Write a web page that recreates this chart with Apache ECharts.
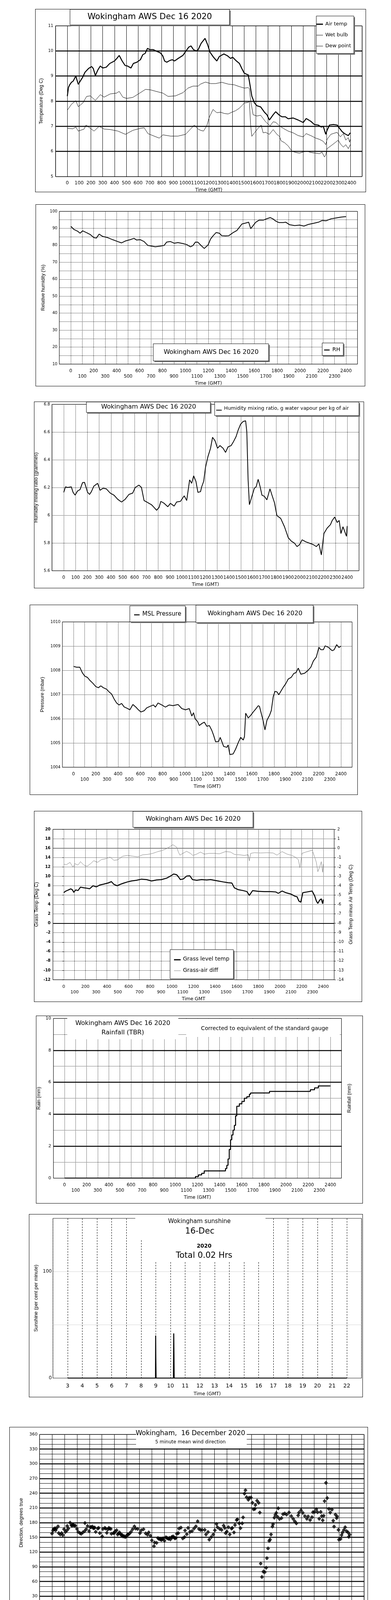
<!DOCTYPE html>
<html><head><meta charset="utf-8">
<script src="https://cdn.jsdelivr.net/npm/echarts@6/dist/echarts.min.js"></script>
<style>
body{margin:0;background:#fff;width:1000px;height:5000px;position:relative;overflow:hidden;}
.p{position:absolute;border:1px solid #000;box-sizing:border-box;background:#fff;}
</style></head><body>
<script>
// ---------------- DATA ----------------
// Panel 1: temperatures (x = time as HHMM-style hundreds, y = deg C)
const airTemp = [[0,8.2],[10,8.55],[20,8.65],[35,8.75],[50,8.8],[72,9.0],[93,8.67],[110,8.8],[130,8.95],[150,9.15],[180,9.3],[206,9.38],[220,9.3],[238,9.02],[260,9.25],[280,9.4],[300,9.32],[330,9.35],[360,9.5],[400,9.6],[420,9.7],[440,9.82],[465,9.6],[490,9.42],[510,9.4],[540,9.32],[560,9.5],[590,9.55],[620,9.65],[640,9.85],[660,9.9],[680,10.1],[700,10.05],[730,10.05],[760,9.98],[790,9.92],[810,9.8],[825,9.6],[843,9.55],[870,9.62],[890,9.65],[910,9.6],[940,9.7],[980,9.82],[1010,10.02],[1030,10.15],[1049,10.2],[1070,10.05],[1094,10.0],[1110,10.05],[1135,10.3],[1155,10.42],[1168,10.5],[1190,10.25],[1210,9.95],[1240,9.75],[1268,9.6],[1290,9.78],[1328,9.88],[1360,9.8],[1385,9.7],[1402,9.75],[1434,9.6],[1460,9.5],[1480,9.3],[1500,9.12],[1520,9.07],[1534,9.05],[1544,8.8],[1565,8.2],[1587,7.93],[1608,7.82],[1640,7.77],[1672,7.56],[1693,7.46],[1714,7.25],[1746,7.46],[1767,7.58],[1799,7.44],[1820,7.38],[1850,7.38],[1873,7.3],[1916,7.33],[1958,7.25],[2001,7.15],[2026,7.31],[2065,7.2],[2096,7.07],[2128,7.05],[2154,6.97],[2171,7.0],[2192,6.68],[2203,6.84],[2224,7.05],[2256,7.07],[2288,7.05],[2309,6.92],[2330,6.79],[2351,6.71],[2383,6.63],[2400,6.74]];
const wetBulb = [[0,7.64],[36,7.88],[72,8.02],[93,7.78],[132,7.93],[164,8.19],[195,8.21],[238,8.03],[280,8.26],[312,8.16],[365,8.29],[418,8.32],[440,8.39],[471,8.16],[503,8.11],[556,8.15],[620,8.34],[663,8.47],[705,8.45],[769,8.37],[811,8.32],[854,8.19],[918,8.21],[981,8.34],[1024,8.52],[1066,8.6],[1109,8.6],[1130,8.68],[1172,8.76],[1215,8.7],[1257,8.7],[1311,8.75],[1364,8.68],[1417,8.65],[1459,8.58],[1502,8.52],[1534,8.54],[1544,8.5],[1555,8.03],[1576,7.46],[1608,7.41],[1640,7.44],[1661,7.31],[1682,7.18],[1720,7.02],[1746,7.18],[1767,7.16],[1799,7.02],[1831,6.92],[1873,6.81],[1916,6.74],[1958,6.63],[2001,6.58],[2026,6.71],[2065,6.63],[2107,6.53],[2139,6.48],[2171,6.4],[2192,6.27],[2203,6.48],[2235,6.68],[2267,6.73],[2288,6.76],[2316,6.58],[2341,6.71],[2362,6.45],[2383,6.55],[2394,6.37],[2400,6.48]];
const dewPoint = [[0,6.92],[47,6.9],[72,6.97],[93,6.81],[142,6.89],[159,7.05],[195,6.92],[227,6.81],[270,7.0],[312,6.89],[365,6.87],[429,6.81],[493,6.68],[556,6.84],[620,6.92],[652,6.94],[684,6.71],[726,6.63],[780,6.53],[811,6.66],[875,6.61],[939,6.61],[1003,6.68],[1045,6.89],[1077,7.05],[1109,6.89],[1130,6.84],[1155,6.81],[1183,7.02],[1204,7.36],[1236,7.67],[1268,7.54],[1300,7.56],[1332,7.51],[1364,7.49],[1395,7.56],[1427,7.62],[1459,7.72],[1480,7.82],[1502,7.93],[1534,7.95],[1544,8.0],[1555,7.05],[1565,6.6],[1587,6.74],[1618,6.92],[1644,7.05],[1661,6.74],[1682,6.76],[1714,6.68],[1746,6.87],[1778,6.68],[1799,6.6],[1814,6.42],[1842,6.35],[1873,6.22],[1905,6.01],[1937,5.96],[1969,5.93],[2001,5.98],[2033,6.01],[2065,5.96],[2107,5.93],[2139,5.91],[2160,5.97],[2181,5.78],[2192,5.86],[2203,6.11],[2235,6.22],[2277,6.37],[2298,6.45],[2316,6.3],[2341,6.17],[2362,6.27],[2383,6.11],[2400,6.27]];
const tempMajorLines = [6,7,8,9,10];

// Panel 2: relative humidity
const relHum = [[0,91.2],[26,89.4],[59,88.3],[81,87.1],[103,88.5],[136,87.5],[168,86.4],[201,84.5],[223,84.2],[247,86.6],[278,85.2],[322,84.5],[365,83.3],[409,82.2],[442,81.4],[475,82.5],[519,83.3],[551,84.1],[573,83.1],[606,83.3],[639,82.2],[672,79.9],[705,79.5],[737,79.1],[781,79.5],[814,79.9],[836,81.9],[869,82.2],[902,81.2],[934,81.6],[978,81.0],[1011,80.4],[1044,79.1],[1066,79.9],[1087,81.9],[1109,81.8],[1131,80.2],[1164,78.1],[1197,80.2],[1219,83.7],[1241,85.6],[1267,87.5],[1295,87.1],[1317,85.6],[1350,85.5],[1376,85.6],[1394,86.4],[1416,87.5],[1448,88.7],[1470,90.6],[1492,92.5],[1525,93.1],[1551,93.6],[1569,89.8],[1591,91.7],[1613,93.6],[1645,94.9],[1678,94.8],[1711,95.7],[1740,96.3],[1766,95.4],[1788,94.2],[1814,93.4],[1853,93.4],[1875,93.6],[1908,92.1],[1952,91.6],[1995,91.9],[2033,91.3],[2072,92.3],[2116,92.9],[2160,93.6],[2192,94.6],[2225,94.4],[2269,95.6],[2313,96.1],[2357,96.6],[2400,96.9]];

// Panel 3: humidity mixing ratio
const mixRatio = [[0,6.165],[15,6.205],[32,6.2],[64,6.205],[79,6.165],[96,6.145],[117,6.175],[138,6.185],[159,6.235],[176,6.237],[202,6.165],[219,6.15],[234,6.17],[255,6.21],[287,6.23],[308,6.18],[333,6.195],[361,6.19],[393,6.16],[425,6.145],[457,6.115],[489,6.095],[520,6.115],[552,6.15],[584,6.16],[605,6.2],[637,6.217],[658,6.2],[680,6.106],[711,6.091],[743,6.076],[765,6.056],[786,6.036],[807,6.056],[822,6.1],[850,6.086],[881,6.061],[903,6.086],[935,6.066],[956,6.096],[988,6.1],[1020,6.14],[1041,6.106],[1066,6.255],[1083,6.23],[1100,6.284],[1119,6.245],[1136,6.165],[1158,6.17],[1168,6.205],[1185,6.245],[1200,6.344],[1221,6.423],[1243,6.483],[1260,6.562],[1281,6.537],[1302,6.483],[1323,6.502],[1349,6.483],[1370,6.453],[1391,6.493],[1417,6.502],[1438,6.532],[1459,6.567],[1476,6.612],[1497,6.656],[1519,6.676],[1540,6.681],[1550,6.602],[1561,6.255],[1572,6.076],[1593,6.136],[1614,6.195],[1629,6.205],[1646,6.259],[1663,6.205],[1678,6.145],[1699,6.136],[1720,6.111],[1746,6.19],[1763,6.145],[1784,6.091],[1805,5.997],[1837,5.977],[1869,5.917],[1901,5.838],[1927,5.813],[1954,5.798],[1975,5.774],[1997,5.788],[2018,5.823],[2050,5.808],[2082,5.798],[2113,5.788],[2139,5.774],[2160,5.794],[2181,5.714],[2203,5.868],[2230,5.907],[2258,5.932],[2273,5.962],[2294,5.987],[2315,5.948],[2332,5.962],[2347,5.868],[2364,5.917],[2381,5.878],[2394,5.848],[2400,5.922]];

// Panel 4: MSL pressure
const pressure = [[0,1008.16],[27,1008.13],[56,1008.13],[79,1007.9],[101,1007.76],[124,1007.71],[146,1007.59],[173,1007.47],[200,1007.33],[223,1007.28],[245,1007.36],[268,1007.28],[297,1007.22],[319,1007.11],[342,1007.02],[364,1006.82],[387,1006.65],[409,1006.57],[432,1006.63],[454,1006.49],[477,1006.44],[506,1006.37],[533,1006.59],[560,1006.48],[582,1006.37],[605,1006.28],[634,1006.33],[657,1006.45],[686,1006.51],[717,1006.57],[735,1006.48],[758,1006.65],[792,1006.57],[825,1006.48],[859,1006.57],[893,1006.54],[938,1006.59],[972,1006.42],[1005,1006.37],[1039,1006.42],[1062,1006.11],[1077,1006.25],[1091,1006.0],[1113,1005.89],[1129,1005.72],[1151,1005.8],[1174,1005.86],[1196,1005.69],[1219,1005.72],[1241,1005.52],[1257,1005.32],[1275,1005.05],[1302,1005.06],[1316,1005.23],[1331,1005.06],[1347,1004.86],[1376,1004.82],[1388,1004.92],[1403,1004.52],[1433,1004.55],[1455,1004.75],[1478,1005.01],[1500,1005.23],[1523,1005.12],[1534,1005.26],[1545,1006.23],[1568,1006.03],[1590,1006.14],[1613,1006.28],[1635,1006.4],[1658,1006.54],[1669,1006.51],[1691,1006.11],[1702,1005.91],[1718,1005.54],[1736,1005.94],[1759,1006.14],[1775,1006.34],[1792,1006.91],[1808,1007.13],[1826,1007.11],[1842,1006.99],[1860,1007.13],[1882,1007.3],[1905,1007.45],[1927,1007.64],[1954,1007.71],[1977,1007.87],[1995,1007.9],[2017,1008.09],[2040,1007.84],[2074,1007.88],[2103,1007.99],[2130,1008.13],[2152,1008.38],[2179,1008.55],[2202,1008.95],[2220,1008.85],[2242,1008.85],[2258,1009.01],[2287,1008.95],[2321,1008.81],[2339,1008.85],[2362,1009.06],[2382,1008.94],[2400,1009.0]];

// Panel 5: grass temperature (left axis) and grass-air difference (right axis)
const grassTemp = [[0,6.52],[16,6.81],[39,7.05],[65,7.34],[81,7.11],[93,6.58],[111,7.11],[132,6.96],[155,7.69],[186,7.55],[216,7.46],[239,7.34],[271,7.99],[301,7.75],[332,8.13],[371,8.34],[410,8.57],[441,8.86],[464,8.28],[494,7.99],[522,8.28],[557,8.57],[591,8.81],[626,9.01],[673,9.16],[719,9.39],[765,9.3],[812,9.01],[858,9.22],[904,9.3],[951,9.6],[986,10.04],[1016,10.48],[1044,10.33],[1060,9.89],[1078,9.3],[1106,9.45],[1136,10.04],[1166,10.1],[1190,9.3],[1229,9.16],[1275,9.3],[1322,9.22],[1357,9.3],[1391,9.16],[1426,9.01],[1473,8.81],[1519,8.63],[1554,8.57],[1577,7.55],[1612,7.16],[1658,6.96],[1693,6.75],[1716,5.93],[1746,6.96],[1797,6.81],[1855,6.75],[1913,6.75],[1960,6.67],[1983,6.37],[2018,6.87],[2052,6.52],[2099,6.23],[2134,5.79],[2157,5.64],[2173,4.76],[2191,4.47],[2210,6.52],[2249,6.67],[2296,6.87],[2319,5.88],[2335,4.76],[2349,4.23],[2365,4.91],[2381,5.2],[2393,4.18],[2400,5.06]];
const grassAirDiff = [[0,-1.69],[23,-1.78],[58,-1.52],[86,-2.03],[104,-1.66],[132,-1.81],[155,-1.44],[186,-1.81],[216,-1.93],[248,-1.66],[278,-1.34],[313,-1.52],[348,-1.22],[383,-1.15],[429,-0.96],[464,-1.3],[499,-1.25],[545,-0.86],[591,-0.78],[638,-0.86],[684,-0.93],[730,-0.71],[777,-0.67],[823,-0.56],[858,-0.42],[904,-0.27],[939,-0.12],[974,0.1],[1009,0.36],[1044,0.1],[1060,-0.42],[1074,-0.75],[1102,-0.56],[1136,-0.34],[1171,-0.56],[1194,-0.78],[1229,-0.64],[1264,-0.42],[1299,-0.64],[1345,-0.56],[1391,-0.56],[1438,-0.61],[1496,-0.37],[1542,-0.42],[1577,-0.67],[1623,-0.71],[1670,-0.78],[1705,-0.71],[1716,-1.37],[1728,-0.56],[1762,-0.49],[1820,-0.52],[1878,-0.49],[1936,-0.52],[1971,-0.75],[2018,-0.37],[2064,-0.64],[2110,-0.78],[2145,-1.0],[2168,-1.22],[2184,-2.1],[2203,-0.56],[2238,-0.42],[2273,-0.31],[2296,-0.2],[2319,-0.93],[2335,-1.52],[2349,-2.51],[2365,-2.03],[2381,-1.44],[2393,-2.57],[2400,-1.66]];

// Panel 6: cumulative rainfall (mm), value holds from its time onwards
const rainfall = [[0,0],[1182,0.1],[1209,0.2],[1238,0.3],[1261,0.45],[1442,0.45],[1453,0.6],[1465,0.8],[1476,1.2],[1487,1.8],[1499,2.4],[1510,2.7],[1521,3.0],[1533,3.3],[1544,3.9],[1555,4.5],[1578,4.65],[1601,4.8],[1623,5.0],[1646,5.1],[1669,5.25],[1680,5.33],[1850,5.43],[2219,5.53],[2257,5.65],[2291,5.77],[2400,5.77]];
const rainMajorLines = [2,4,6,8];

// Panel 7: sunshine (per cent per minute), x in hours
const sunshine = [[3,0],[8.98,0],[8.99,40],[9.0,20],[9.02,0],[10.2,0],[10.21,20],[10.22,42],[10.235,23],[10.25,0],[22,0]];

// Panel 8: 5-minute mean wind direction (hours, degrees)
const windDir = [[0.0,157.9],[0.08,164],[0.13,167],[0.19,166.7],[0.24,168.5],[0.29,164.5],[0.35,168],[0.48,172.5],[0.54,158.7],[0.66,156],[0.77,158.7],[0.87,154.7],[0.96,166.7],[1.08,161.3],[1.19,164],[1.22,173.3],[1.31,168],[1.45,180],[1.55,174.7],[1.62,174],[1.66,176],[1.71,175.2],[1.78,174],[1.87,173.9],[2.0,167.2],[2.1,161.3],[2.24,158.7],[2.34,157.3],[2.47,160],[2.61,162.7],[2.64,179.2],[2.74,166.7],[2.85,173.3],[2.97,162.7],[3.08,170.7],[3.14,171],[3.24,172],[3.3,169],[3.37,168.8],[3.42,170],[3.5,161.3],[3.66,168],[3.74,169.3],[3.83,158.7],[4.02,152],[4.08,167.2],[4.23,169.3],[4.3,168],[4.39,159.2],[4.47,166],[4.55,169.3],[4.62,168],[4.71,167.2],[4.76,157.3],[4.92,158.7],[5.0,159],[5.07,162.7],[5.18,164.5],[5.26,156],[5.33,158],[5.41,160],[5.48,157],[5.55,154.7],[5.62,155],[5.7,152],[5.78,152.5],[5.86,150.7],[5.94,152],[6.04,155.5],[6.12,156],[6.21,157.9],[6.33,161.3],[6.46,166.7],[6.6,172.5],[6.7,168],[6.86,167.2],[7.05,158.7],[7.15,164.5],[7.33,166.7],[7.51,158.1],[7.65,155.5],[7.75,160],[7.89,153.3],[8.0,144],[8.17,132],[8.22,139.5],[8.38,138.7],[8.49,148.5],[8.56,147],[8.64,146.7],[8.7,146],[8.77,144.8],[8.84,147],[8.91,148],[9.01,143.2],[9.12,150.1],[9.2,149],[9.28,148],[9.36,147],[9.42,149],[9.49,145.9],[9.59,150.7],[9.64,150],[9.7,152],[9.78,150],[9.85,148],[9.92,149],[10.0,157.3],[10.12,158.7],[10.18,168],[10.33,169.9],[10.48,148],[10.62,150.7],[10.66,164],[10.8,156.5],[10.9,169.3],[11.06,161.3],[11.22,162.7],[11.38,168],[11.53,172.5],[11.67,182.7],[11.77,167.2],[11.9,165],[12.03,165.3],[12.24,165.3],[12.34,156],[12.5,160.8],[12.6,145.3],[12.76,150.7],[12.92,156],[13.05,164.5],[13.18,177.3],[13.26,170.7],[13.44,167.2],[13.59,165.3],[13.75,174.1],[13.85,169.3],[13.91,158.7],[14.01,161.9],[14.14,170.7],[14.24,156],[14.38,168],[14.45,169.3],[14.58,160],[14.66,175.2],[14.79,185.3],[14.86,186.7],[15.0,178.7],[15.1,168.8],[15.24,178.7],[15.31,190.7],[15.42,239.2],[15.5,246.1],[15.59,232],[15.73,226.7],[15.8,230.7],[15.94,231.2],[16.06,220.5],[16.15,207.2],[16.25,208],[16.3,216],[16.43,224.8],[16.56,220.5],[16.65,200.5],[16.72,96.5],[16.82,69.3],[16.93,80],[17.05,79.2],[17.16,88],[17.22,107.5],[17.31,127.5],[17.4,142.7],[17.47,145.3],[17.55,156],[17.66,172],[17.71,176.8],[17.81,190.1],[17.89,196],[17.97,200],[18.07,192],[18.13,209.3],[18.23,187.5],[18.39,189.3],[18.51,197.3],[18.65,198.7],[18.8,196.5],[18.99,200.8],[19.17,193.3],[19.32,188],[19.45,182.7],[19.58,178.7],[19.72,194.7],[19.79,200.5],[19.95,205.3],[20.1,200],[20.26,193.3],[20.42,188],[20.52,192.8],[20.68,185.3],[20.83,191.2],[20.91,201.3],[21.04,201.9],[21.18,207.2],[21.28,201.3],[21.41,188],[21.53,201.9],[21.61,193.3],[21.69,184.8],[21.77,193.9],[21.84,224],[21.95,261.3],[22.05,230.1],[22.19,208],[22.29,200.5],[22.43,206.7],[22.53,184],[22.6,172],[22.71,196.5],[22.81,189.3],[22.84,192.8],[22.95,165.3],[22.99,145.3],[23.12,146.7],[23.2,154.7],[23.28,160],[23.39,165.3],[23.49,170.7],[23.6,162.7],[23.72,160],[23.78,151.2],[23.85,155.5]];
const dirMajorLines = [30,60,90,120,150,180,210,240,270,300,330];

// Panel 9: wind speed (hours, knots)
const windMean = [[0,6.5],[0.2,6.6],[0.4,7.1],[0.6,6.9],[0.8,7.4],[1.0,7.4],[1.2,8.5],[1.4,7.8],[1.6,8.9],[1.8,9.5],[2.0,10.4],[2.2,9.1],[2.4,8.9],[2.6,9.1],[2.8,8.7],[3.0,8.9],[3.2,9.6],[3.4,10.2],[3.6,9.8],[3.8,10.4],[4.0,11.3],[4.2,10.9],[4.4,10.2],[4.6,9.6],[4.8,10.0],[5.0,9.1],[5.2,9.6],[5.4,9.1],[5.6,8.9],[5.8,9.6],[6.0,9.2],[6.2,10.0],[6.4,9.6],[6.6,9.1],[6.8,7.1],[7.0,8.7],[7.2,9.6],[7.4,9.1],[7.6,9.8],[7.8,9.1],[8.0,8.9],[8.2,9.2],[8.4,8.7],[8.6,9.3],[8.8,8.6],[9.0,9.6],[9.2,9.8],[9.4,8.9],[9.6,9.8],[9.8,9.1],[10.0,9.6],[10.2,7.8],[10.4,9.8],[10.6,9.1],[10.8,10.2],[11.0,9.5],[11.2,9.1],[11.4,7.1],[11.6,9.8],[11.8,10.0],[12.0,9.3],[12.2,9.6],[12.4,10.0],[12.6,9.3],[12.8,9.6],[13.0,9.5],[13.2,10.0],[13.4,9.5],[13.6,10.2],[13.8,8.9],[14.0,9.1],[14.2,8.7],[14.4,8.9],[14.6,7.8],[14.8,7.1],[15.0,6.9],[15.2,6.5],[15.4,7.8],[15.6,6.3],[15.8,5.2],[16.0,4.3],[16.2,2.8],[16.4,2.5],[16.6,2.8],[16.8,1.9],[16.9,1.2],[17.0,2.3],[17.2,3.9],[17.4,4.5],[17.6,5.0],[17.8,4.7],[18.0,4.5],[18.2,3.9],[18.4,4.3],[18.6,4.5],[18.8,5.6],[19.0,5.2],[19.2,5.2],[19.4,5.4],[19.6,4.7],[19.8,3.9],[20.0,4.3],[20.2,4.5],[20.4,4.6],[20.6,4.7],[20.8,4.3],[21.0,3.4],[21.2,2.1],[21.4,1.9],[21.6,2.3],[21.8,2.8],[22.0,3.2],[22.2,3.0],[22.4,2.8],[22.6,2.8],[22.8,2.1],[23.0,3.0],[23.2,4.1],[23.4,3.9],[23.6,4.1],[23.8,5.0],[24.0,5.8]];
const windGust = [[0.0,9],[0.1,12.5],[0.2,8],[0.3,13.3],[0.4,9],[0.5,11],[0.55,14.3],[0.6,8.5],[0.7,12],[0.8,7.8],[0.9,13.5],[1.0,8],[1.1,11.5],[1.2,7.2],[1.3,16.8],[1.4,9],[1.5,14],[1.55,6.2],[1.6,15],[1.7,9.5],[1.8,16],[1.85,19],[1.9,10],[2.0,17],[2.1,10.5],[2.2,15],[2.3,9],[2.35,16],[2.4,9.5],[2.5,15.5],[2.6,9],[2.7,16.5],[2.8,10],[2.9,17.5],[3.0,7.5],[3.1,15],[3.2,9.5],[3.3,17],[3.4,11],[3.5,18.5],[3.6,10],[3.7,17],[3.8,21.5],[3.9,10.5],[4.0,19],[4.1,11],[4.2,18],[4.3,10.5],[4.4,17],[4.5,9.5],[4.6,16.5],[4.7,9],[4.8,17.5],[4.9,9.5],[5.0,17],[5.1,9],[5.2,15.5],[5.3,9.5],[5.4,16],[5.5,8.5],[5.6,15],[5.7,9],[5.8,17.5],[5.9,9.5],[6.0,16],[6.1,9],[6.2,19.5],[6.3,10],[6.4,16],[6.5,8.5],[6.6,14.5],[6.7,7],[6.8,12],[6.9,8],[7.0,15],[7.1,17],[7.2,9.5],[7.3,16],[7.4,9],[7.5,15.5],[7.6,9.5],[7.7,17],[7.8,8.5],[7.9,15],[8.0,16],[8.1,9],[8.2,15.5],[8.3,9.5],[8.4,14.5],[8.5,8.5],[8.6,16],[8.7,9],[8.8,15],[8.9,17],[9.0,9.5],[9.1,16],[9.2,10],[9.3,17.5],[9.4,9],[9.5,15],[9.6,9.5],[9.7,16.5],[9.8,18],[9.9,9.5],[10.0,16],[10.1,8.5],[10.2,14],[10.3,5.4],[10.4,15],[10.5,9.5],[10.6,19.5],[10.7,10],[10.8,17],[10.9,9.5],[11.0,18.5],[11.1,10],[11.2,20],[11.3,9],[11.4,15],[11.5,7.5],[11.6,18],[11.7,10],[11.8,19],[11.9,10.5],[12.0,18],[12.1,21.8],[12.2,10],[12.3,17.5],[12.4,9.5],[12.5,20],[12.6,10],[12.7,16],[12.8,9.5],[12.9,17],[13.0,10],[13.1,16.5],[13.2,9.5],[13.3,15],[13.4,21.8],[13.5,10.5],[13.6,17],[13.7,9],[13.8,18],[13.9,7.5],[14.0,15],[14.1,9],[14.2,16],[14.3,8.5],[14.4,16.5],[14.5,9],[14.6,14],[14.7,7.5],[14.8,13],[14.9,7],[15.0,13.5],[15.1,14.9],[15.2,7.5],[15.3,12],[15.4,7],[15.5,10],[15.6,6],[15.7,7.5],[15.8,5],[15.9,6],[16.0,4.5],[16.1,5.5],[16.2,3.8],[16.3,5],[16.4,3.5],[16.5,4.8],[16.6,3.2],[16.7,4.5],[16.8,2.8],[16.9,3.5],[17.0,4.5],[17.1,6],[17.2,5],[17.3,7.5],[17.4,5.5],[17.5,8],[17.6,5.5],[17.7,7.2],[17.8,5],[17.9,7.5],[18.0,5],[18.1,6.5],[18.2,4.5],[18.3,7],[18.4,5.5],[18.5,8],[18.6,6],[18.7,8.5],[18.8,6.5],[18.9,9],[19.0,6.5],[19.1,8],[19.2,5.5],[19.3,7.5],[19.4,5],[19.5,7],[19.6,5.5],[19.7,7.5],[19.8,4.5],[19.9,6.5],[20.0,5],[20.1,7.5],[20.2,5],[20.3,7],[20.4,5.5],[20.5,7],[20.6,5],[20.7,6.5],[20.8,4.5],[20.9,5.5],[21.0,3],[21.1,4.5],[21.2,2.5],[21.3,5],[21.4,3],[21.5,5.5],[21.6,3.5],[21.7,5],[21.8,3.5],[21.9,6],[22.0,11.4],[22.05,5],[22.1,6.5],[22.2,3.5],[22.3,5],[22.4,3],[22.5,6],[22.6,3.5],[22.7,5.5],[22.8,2.8],[22.9,4],[23.0,2.5],[23.1,5.5],[23.2,3.8],[23.3,5.5],[23.4,4],[23.5,5.2],[23.6,4],[23.7,5.5],[23.8,5],[23.9,7.8],[24.0,6]];
const windLowX10 = [[15.97,39.1],[16.0,38.5],[16.0,36.8],[16.02,36.0],[16.02,35.2],[16.05,33.2],[16.07,32.4],[16.07,31.6],[16.09,31.0],[16.12,30.3],[16.12,29.4],[16.15,28.8],[16.17,27.4],[16.2,26.6],[16.22,25.7],[16.26,24.6],[16.28,23.7],[16.28,23.0],[16.33,26.1],[16.38,26.8],[16.43,26.6],[16.48,27.0],[16.56,27.5],[16.6,27.1],[16.63,26.1],[16.66,25.2],[16.68,24.4],[16.71,23.0],[16.71,21.3],[16.74,19.6],[16.74,17.5],[16.77,15.6],[16.81,13.6],[16.79,12.7],[16.79,11.1],[16.82,10.3],[16.81,9.6],[16.87,10.7],[16.87,13.4],[16.89,15.6],[16.89,17.7],[16.91,19.6],[16.94,22.4],[16.94,23.7],[16.97,24.9],[16.97,26.0],[16.99,27.2],[17.01,28.3],[17.02,29.3],[17.04,30.5],[17.07,32.6],[17.09,34.4],[17.09,35.2],[17.11,36.0],[17.14,37.1],[17.17,37.8],[17.19,38.5],[17.24,39.3],[17.28,40.0],[17.35,38.5],[17.38,40.2],[17.3,37.1],[17.35,36.3],[18.16,40.0],[18.26,39.6],[18.4,39.8],[18.4,39.0],[18.2,37.4],[18.36,37.4],[18.32,36.0],[18.36,35.4],[18.26,34.7],[18.31,34.3],[18.26,33.6],[18.3,33.0],[20.03,40.0],[19.9,39.3],[19.95,38.5],[19.97,37.8],[19.85,37.4],[19.95,36.9],[19.95,36.0],[19.9,35.6],[19.85,35.3],[20.95,40.0],[20.95,39.1],[20.97,38.2],[20.99,36.9],[20.99,36.3],[21.0,35.6],[21.02,34.7],[21.02,33.6],[21.02,33.1],[21.07,32.1],[21.07,30.5],[21.09,29.7],[21.17,27.9],[21.17,27.0],[21.19,26.1],[21.19,24.6],[21.22,23.7],[21.22,22.6],[21.26,21.2],[21.28,20.3],[21.3,19.3],[21.33,18.4],[21.38,17.8],[21.43,16.7],[21.48,17.5],[21.5,19.1],[21.53,20.4],[21.53,21.4],[21.58,23.5],[21.58,24.6],[21.63,25.7],[21.63,27.0],[21.6,28.3],[21.68,26.1],[21.73,27.0],[21.79,27.4],[21.81,24.4],[21.83,29.2],[21.86,30.5],[21.88,31.6],[21.9,32.6],[21.93,33.4],[21.95,35.8],[21.98,38.5],[22.04,38.8],[22.17,39.9],[22.19,38.0],[22.11,35.8],[22.19,35.6],[22.21,34.5],[22.24,33.4],[22.3,32.5],[22.3,30.5],[22.35,29.6],[22.4,29.0],[22.42,27.9],[22.45,27.0],[22.48,28.3],[22.52,29.4],[22.58,31.1],[22.62,32.3],[22.65,33.6],[22.7,33.8],[22.68,31.4],[22.72,30.1],[22.76,28.5],[22.79,27.4],[22.76,25.0],[22.81,23.7],[22.83,22.1],[22.86,21.3],[22.91,20.4],[22.96,19.7],[23.01,18.7],[23.03,23.0],[23.06,26.8],[23.09,29.0],[23.13,31.6],[23.13,33.4],[23.16,35.2],[23.16,37.1],[23.16,38.9],[23.3,39.1],[23.4,39.3],[23.47,39.8],[23.57,40.0],[23.64,39.6],[23.7,38.8],[23.37,38.5]];

// ---------------- HELPERS ----------------
const FL = "'DejaVu Sans',Verdana,sans-serif";
const FA = "'Liberation Sans',Arial,sans-serif";
function P(L,T,W,H){
  const d=document.createElement('div'); d.className='p';
  Object.assign(d.style,{left:L+'px',top:T+'px',width:W+'px',height:H+'px'});
  document.body.appendChild(d);
  return {c:echarts.init(d,null,{renderer:'canvas'}), ox:L+1, oy:T+1};
}
function G(p,x0,y0,x1,y1){
  return {left:x0-p.ox, top:y0-p.oy, width:x1-x0, height:y1-y0, show:true, borderColor:'#000', borderWidth:1,
    backgroundColor:'rgba(0,0,0,0)', containLabel:false, outerBoundsMode:'none'};
}
function rect(p,x0,y0,x1,y1,shadow,border){
  const a=[];
  if(shadow) a.push({type:'rect',z:100,silent:true,shape:{x:x0-p.ox+3,y:y0-p.oy+3,width:x1-x0,height:y1-y0},style:{fill:'#7a7a7a'}});
  a.push({type:'rect',z:101,silent:true,shape:{x:x0-p.ox,y:y0-p.oy,width:x1-x0,height:y1-y0},style:{fill:'#fff',stroke:border?'#000':null,lineWidth:1}});
  return a;
}
function txt(p,x,y,s,size,o){
  o=o||{};
  const st={text:s,fontSize:size,fontFamily:o.family||FL,fontWeight:o.bold?'bold':'normal',fill:'#000',
    align:o.align||'center',verticalAlign:'middle'};
  if(o.width){st.width=o.width;st.overflow='truncate';st.ellipsis='';}
  return {type:'text',z:103,silent:true,x:x-p.ox,y:y-p.oy,style:st};
}
function seg(p,x0,x1,y,w,color){
  return {type:'line',z:103,silent:true,shape:{x1:x0-p.ox,y1:y-p.oy,x2:x1-p.ox,y2:y-p.oy},style:{stroke:color||'#000',lineWidth:w}};
}
function lineS(data,w,color,extra){
  return Object.assign({type:'line',data,symbol:'none',showSymbol:false,lineStyle:{width:w,color},itemStyle:{color},silent:true,animation:false,z:5},extra||{});
}
function majors(vals,w,type){
  return {silent:true,symbol:'none',animation:false,label:{show:false},lineStyle:{color:'#000',width:w,type:type||'solid'},data:vals.map(v=>({yAxis:v}))};
}
function hundredsX(twoRow,name,margin,gap,dotted,size){
  return {type:'value',min:-100,max:2500,interval:100,axisLine:{show:false},axisTick:{show:false},
    splitLine:{show:true,lineStyle:{color:'#000',width:1,type:dotted?'dotted':'solid'}},
    axisLabel:{fontFamily:FL,fontSize:size||11.5,color:'#000',margin,lineHeight:14,hideOverlap:false,
      formatter:v=>(v<0||v>2400)?'':(twoRow&&((v/100)%2===1)?'\n'+v:String(v))},
    name,nameLocation:'middle',nameGap:gap,nameTextStyle:{fontFamily:FL,fontSize:12,color:'#000'}};
}
function yAx(min,max,interval,name,gap,margin,o){
  o=o||{};
  return Object.assign({type:'value',min,max,interval,axisLine:{show:false},axisTick:{show:false},
    splitLine:{show:true,lineStyle:{color:'#000',width:1,type:o.split||'dotted'}},
    axisLabel:{fontFamily:FL,fontSize:o.size||10,color:'#000',margin,fontWeight:o.bold?'bold':'normal',hideOverlap:false,
      formatter:o.fmt||(v=>String(Math.round(v*100)/100))},
    name,nameLocation:'middle',nameGap:gap,nameRotate:90,nameTextStyle:{fontFamily:FA,fontSize:12.5,color:'#000'}},o.extra||{});
}

// ---------------- PANEL 1 ----------------
(function(){
  const p=P(90,23,846,469);
  p.c.setOption({animation:false,
    grid:G(p,142,66,926,452),
    xAxis:hundredsX(false,'Time (GMT)',10,29,false,12),
    yAxis:yAx(5,11,1,'Temperature (Deg C)',30,6,{split:'solid'}),
    series:[
      lineS(airTemp,2.5,'#000',{name:'Air temp',markLine:majors(tempMajorLines,2.5)}),
      lineS(wetBulb,1,'#000',{name:'Wet bulb'}),
      lineS(dewPoint,1,'#000',{name:'Dew point'})
    ],
    graphic:{elements:[].concat(
      rect(p,179,24,587,64,true,true),[txt(p,383,44,'Wokingham AWS Dec 16 2020',21)],
      rect(p,809,41,905,137,true,true),
      [seg(p,809,826,62,3),txt(p,832,62,'Air temp',13,{align:'left'}),
       seg(p,809,826,90,1),txt(p,832,90,'Wet bulb',13,{align:'left'}),
       seg(p,809,826,118,1),txt(p,832,118,'Dew point',13,{align:'left'})]
    )}
  });
})();

// ---------------- PANEL 2 ----------------
(function(){
  const p=P(91,523,843,466);
  p.c.setOption({animation:false,
    grid:G(p,151.7,541,914.3,932),
    xAxis:hundredsX(true,'Time (GMT)',11,44,true,11.5),
    yAxis:yAx(10,100,5,'Relative humidity (%)',34,5,{fmt:v=>v%10===0?String(v):''}),
    series:[lineS(relHum,2,'#000',{name:'RH'})],
    graphic:{elements:[].concat(
      rect(p,392,880,687,924,true,true),[txt(p,540,902,'Wokingham AWS Dec 16 2020',16)],
      rect(p,824,878,878,910,true,true),[seg(p,829,843,896,2.5),txt(p,850,895,'RH',14,{align:'left'})]
    )}
  });
})();

// ---------------- PANEL 3 ----------------
(function(){
  const p=P(87,1028,844,478);
  p.c.setOption({animation:false,
    grid:G(p,132.8,1035,918.2,1461),
    xAxis:hundredsX(false,'Time (GMT)',11,29,true,11.5),
    yAxis:yAx(5.6,6.8,0.2,'Humidity mixing ratio (grammes)',34,5,{fmt:v=>String(Math.round(v*10)/10)}),
    series:[lineS(mixRatio,2,'#000',{name:'Humidity mixing ratio'})],
    graphic:{elements:[].concat(
      rect(p,221,1029,538,1056,true,true),[txt(p,380,1042,'Wokingham AWS Dec 16 2020',16)],
      rect(p,549,1029,918,1064,true,true),
      [seg(p,553,567,1050,2),txt(p,573,1046,'Humidity mixing ratio, g water vapour per kg of air',12.5,{align:'left',width:344})]
    )}
  });
})();

// ---------------- PANEL 4 ----------------
(function(){
  const p=P(76,1548,839,487);
  p.c.setOption({animation:false,
    grid:G(p,159.5,1592,900.5,1964),
    xAxis:hundredsX(true,'Time (GMT)',11,44,true,11.5),
    yAxis:yAx(1004,1010,1,'Pressure (mbar)',44,5,{fmt:v=>String(v)}),
    series:[lineS(pressure,2,'#000',{name:'MSL Pressure'})],
    graphic:{elements:[].concat(
      rect(p,332,1551,474,1592,true,true),[seg(p,343,357,1574,2.5),txt(p,364,1572,'MSL Pressure',15,{align:'left'})],
      rect(p,501,1549,801,1594,true,true),[txt(p,652,1571,'Wokingham AWS Dec 16 2020',16)]
    )}
  });
})();

// ---------------- PANEL 5 ----------------
(function(){
  const p=P(87,2076,839,489);
  const ticks={show:true,length:4,inside:false,lineStyle:{color:'#000'}};
  p.c.setOption({animation:false,
    grid:G(p,135.3,2123,854.7,2508),
    xAxis:hundredsX(true,'Time GMT',11,43,true,11),
    yAxis:[
      yAx(-12,20,2,'Grass Temp (Deg C)',34,6,{bold:true,size:10,fmt:v=>String(v),extra:{axisTick:ticks}}),
      yAx(-14,2,1,'Grass Temp minus Air Temp (Deg C)',36,8,{size:10,fmt:v=>String(v),extra:{position:'right',splitLine:{show:false},axisTick:ticks}})
    ],
    series:[
      lineS(grassTemp,2.5,'#000',{name:'Grass level temp',yAxisIndex:0,
        markLine:{silent:true,symbol:'none',animation:false,label:{show:false},
          data:[{yAxis:0,lineStyle:{color:'#000',width:2,type:'solid'}},{yAxis:16,lineStyle:{color:'#000',width:1,type:'solid'}}]}}),
      lineS(grassAirDiff,1,'#808080',{name:'Grass-air diff',yAxisIndex:1})
    ],
    graphic:{elements:[].concat(
      rect(p,340,2077,647,2118,true,true),[txt(p,494,2097,'Wokingham AWS Dec 16 2020',16)],
      rect(p,435,2431,597,2506,true,true),
      [seg(p,445,462,2457,3),txt(p,468,2455,'Grass level temp',14,{align:'left'}),
       seg(p,445,462,2485,1,'#808080'),txt(p,468,2484,'Grass-air diff',14,{align:'left'})]
    )}
  });
})();

// ---------------- PANEL 6 ----------------
(function(){
  const p=P(92,2600,836,481);
  p.c.setOption({animation:false,
    grid:G(p,136.7,2607,873.3,3016),
    xAxis:hundredsX(true,'Time (GMT)',11,43,true,11.5),
    yAxis:[
      yAx(0,10,1,'Rain (mm)',30,6,{size:11,fmt:v=>v%2===0?String(v):''}),
      {type:'value',min:0,max:10,interval:1,position:'right',axisLine:{show:false},axisTick:{show:false},axisLabel:{show:false},splitLine:{show:false},
        name:'Rainfall (mm)',nameLocation:'middle',nameGap:14,nameRotate:90,nameTextStyle:{fontFamily:FA,fontSize:12.5,color:'#000'}}
    ],
    series:[lineS(rainfall,2.5,'#000',{name:'Rainfall',step:'end',markLine:majors(rainMajorLines,2.5)})],
    graphic:{elements:[].concat(
      rect(p,172,2605,456,2661,false,false),
      [txt(p,314,2620,'Wokingham AWS Dec 16 2020',16),txt(p,314,2644,'Rainfall (TBR)',16)],
      rect(p,476,2609,869,2655,false,false),
      [txt(p,677,2633,'Corrected to equivalent of the standard gauge',14)]
    )}
  });
})();

// ---------------- PANEL 7 ----------------
(function(){
  const p=P(74,3108,854,469);
  p.c.setOption({animation:false,
    grid:G(p,135.4,3119,924.6,3528),
    xAxis:{type:'value',min:2,max:23,interval:1,axisLine:{show:false},axisTick:{show:false},
      splitLine:{show:true,lineStyle:{color:'#000',width:1,type:[4,3]}},
      axisLabel:{fontFamily:FL,fontSize:14,color:'#000',margin:13,hideOverlap:false,formatter:v=>(v<3||v>22)?'':String(v)},
      name:'Time (GMT)',nameLocation:'middle',nameGap:35,nameTextStyle:{fontFamily:FL,fontSize:12,color:'#000'}},
    yAxis:yAx(0,150,50,'Sunshine (per cent per minute)',30,3,{size:12,fmt:v=>(v===0||v===100)?String(v):'',
      extra:{splitLine:{show:true,lineStyle:{color:'#aaa',width:1,type:'dotted'}}}}),
    series:[lineS(sunshine,2.5,'#000',{name:'Sunshine'})],
    graphic:{elements:[].concat(
      rect(p,346,3117,679,3174,false,false),rect(p,362,3173,667,3231,false,false),
      [txt(p,510,3127,'Wokingham sunshine',15),txt(p,511,3153,'16-Dec',21),
       txt(p,522,3190,'2020',13.5,{bold:true}),txt(p,522,3215,'Total 0.02 Hrs',21)]
    )}
  });
})();

// ---------------- PANEL 8 ----------------
(function(){
  const p=P(24,3653,917,519);
  p.c.setOption({animation:false,
    grid:G(p,101.1,3672,931,4124),
    xAxis:{type:'value',min:-1,max:25,interval:1,axisLine:{show:false},axisTick:{show:false},
      splitLine:{show:true,lineStyle:{color:'#000',width:1,type:'solid'}},
      axisLabel:{fontFamily:FL,fontSize:11,color:'#000',margin:12,hideOverlap:false,formatter:v=>(v<0||v>24)?'':String(v)},
      name:'Time (GMT)',nameLocation:'middle',nameGap:29,nameTextStyle:{fontFamily:FL,fontSize:12,color:'#000'}},
    yAxis:yAx(0,360,10,'Direction, degrees true',40,5,{size:11,split:'solid',fmt:v=>v%30===0?String(v):''}),
    series:[{type:'scatter',name:'Direction',data:windDir,symbol:'diamond',symbolSize:[10,11],itemStyle:{color:'#000'},silent:true,animation:false,z:5,
      markLine:majors(dirMajorLines,2.5)}],
    graphic:{elements:[].concat(
      rect(p,348,3661,631,3708,false,false),
      [txt(p,487,3670,'Wokingham,  16 December 2020',17),txt(p,487,3692,'5 minute mean wind direction',12)]
    )}
  });
})();

// ---------------- PANEL 9 ----------------
(function(){
  const p=P(24,4198,913,530);
  const pad=h=>(h<10?'0':'')+h+':00';
  p.c.setOption({animation:false,
    grid:G(p,73.2,4242,925.3,4623),
    xAxis:{type:'value',min:-1,max:25,interval:1,axisLine:{show:false},axisTick:{show:false},
      splitLine:{show:true,lineStyle:{color:'#000',width:1,type:'dotted'}},
      axisLabel:{fontFamily:FL,fontSize:11,color:'#000',margin:11,lineHeight:14,hideOverlap:false,
        formatter:v=>(v<0||v>23)?'':(v%2===1?'\n'+pad(v):pad(v))},
      name:'Time (GMT)',nameLocation:'middle',nameGap:41,nameTextStyle:{fontFamily:FL,fontSize:12,color:'#000'}},
    yAxis:yAx(0,50,5,'Speed (knots)',30,4,{size:11,fmt:v=>v%10===0?String(v):''}),
    series:[
      lineS(windGust,1,'#4a4a4a',{name:'Gust'}),
      lineS(windMean,2,'#000',{name:'Speed x 1'}),
      {type:'scatter',name:'Speed / 10',data:windLowX10,symbol:'diamond',symbolSize:8,
        itemStyle:{color:'#c8c8c8',borderColor:'#222',borderWidth:0.8},silent:true,animation:false,z:6}
    ],
    graphic:{elements:[].concat(
      [txt(p,122,4222,'Wokingham,  16 December 2020',17,{align:'left'}),
       txt(p,563,4212,'Wind speed, 10 min mean / max gust',11.5),
       txt(p,563,4229,'Speeds below 4 kt shown at x10 scale',11.5)],
      rect(p,716,4204,933,4230,true,true),
      [seg(p,747,760,4218,2.5),txt(p,766,4217,'Speed x 1',9.5,{align:'left'}),
       {type:'polygon',z:103,silent:true,shape:{points:[[840-p.ox,4213-p.oy],[845-p.ox,4218-p.oy],[840-p.ox,4223-p.oy],[835-p.ox,4218-p.oy]]},style:{fill:'#c8c8c8',stroke:'#222',lineWidth:0.8}},
       txt(p,851,4217,'Speed / 10',9.5,{align:'left'})]
    )}
  });
})();
</script>
</body></html>
